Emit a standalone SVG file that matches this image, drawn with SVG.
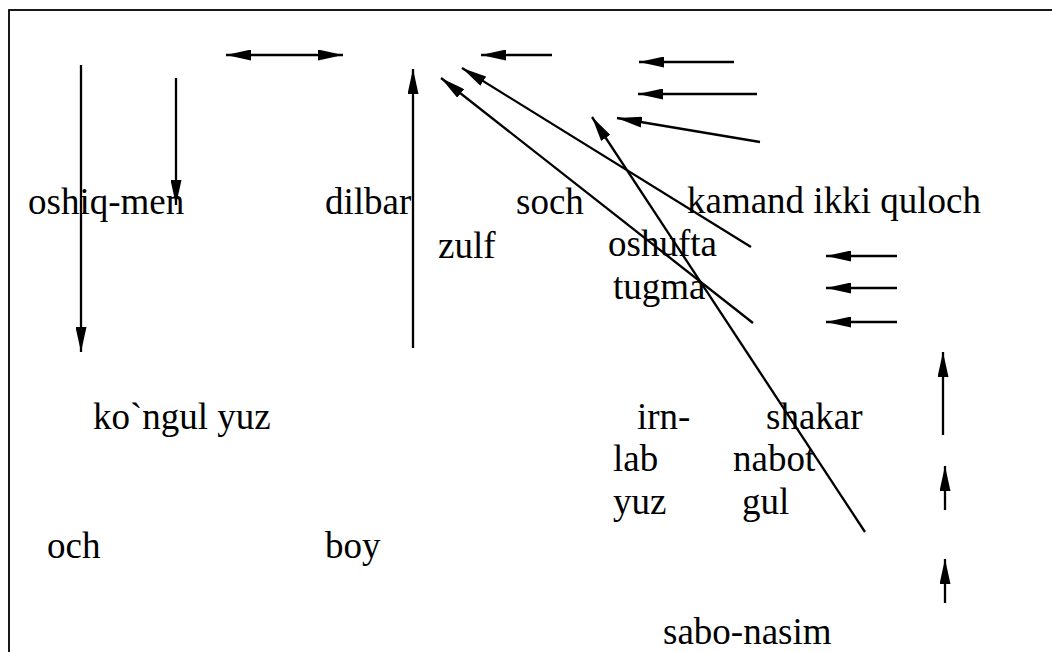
<svg xmlns="http://www.w3.org/2000/svg" width="1052" height="652" viewBox="0 0 1052 652">
<style>
text{font-family:"Liberation Serif","Times New Roman",serif;font-size:37px;fill:#000}
.c line{stroke:#000;stroke-width:2.3;fill:none}
.a{marker-end:url(#ah)}
.d{marker-start:url(#ah);marker-end:url(#ah)}
</style>
<defs>
<marker id="ah" viewBox="0 0 25 11" refX="25" refY="5.5" markerWidth="25" markerHeight="11" markerUnits="userSpaceOnUse" orient="auto-start-reverse">
<path d="M0,0 L25,5.5 L0,11 z" fill="#000"/>
</marker>
</defs>
<rect x="9" y="10" width="1060" height="700" fill="#fff" stroke="#000" stroke-width="1.8"/>
<g id="n-oshiq-men"><text x="28" y="214">oshiq-men</text></g>
<g id="n-dilbar"><text x="325" y="214">dilbar</text></g>
<g id="n-soch"><text x="516" y="214">soch</text></g>
<g id="n-kamand"><text x="687" y="213">kamand ikki quloch</text></g>
<g id="n-zulf"><text x="438" y="258">zulf</text></g>
<g id="n-oshufta"><text x="608" y="256">oshufta</text></g>
<g id="n-tugma"><text x="613" y="299">tugma</text></g>
<g id="n-kongul"><text x="93" y="429">ko`ngul yuz</text></g>
<g id="n-irn"><text x="637" y="429">irn-</text></g>
<g id="n-shakar"><text x="766" y="429">shakar</text></g>
<g id="n-lab"><text x="613" y="471">lab</text></g>
<g id="n-nabot"><text x="733" y="471">nabot</text></g>
<g id="n-yuz"><text x="613" y="514">yuz</text></g>
<g id="n-gul"><text x="742" y="514">gul</text></g>
<g id="n-och"><text x="47" y="558">och</text></g>
<g id="n-boy"><text x="325" y="558">boy</text></g>
<g id="n-sabo"><text x="663" y="644">sabo-nasim</text></g>
<g id="connectors" class="c">
<line class="a" x1="81" y1="65" x2="81" y2="352"/>
<line class="a" x1="176" y1="78" x2="176" y2="205"/>
<line class="d" x1="226" y1="55" x2="343" y2="55"/>
<line class="a" x1="413" y1="348" x2="413" y2="69"/>
<line class="a" x1="552" y1="55" x2="481" y2="55"/>
<line class="a" x1="751" y1="247" x2="462" y2="68"/>
<line class="a" x1="753" y1="323" x2="441" y2="78"/>
<line class="a" x1="865" y1="532" x2="592" y2="117"/>
<line class="a" x1="760" y1="142" x2="617" y2="118"/>
<line class="a" x1="734" y1="62" x2="639" y2="62"/>
<line class="a" x1="757" y1="94" x2="638" y2="94"/>
<line class="a" x1="897" y1="256" x2="826" y2="256"/>
<line class="a" x1="897" y1="288" x2="826" y2="288"/>
<line class="a" x1="897" y1="322" x2="826" y2="322"/>
<line class="a" x1="943" y1="435" x2="943" y2="352"/>
<line class="a" x1="945" y1="510" x2="945" y2="466"/>
<line class="a" x1="945" y1="603" x2="945" y2="559"/>
</g>
</svg>
